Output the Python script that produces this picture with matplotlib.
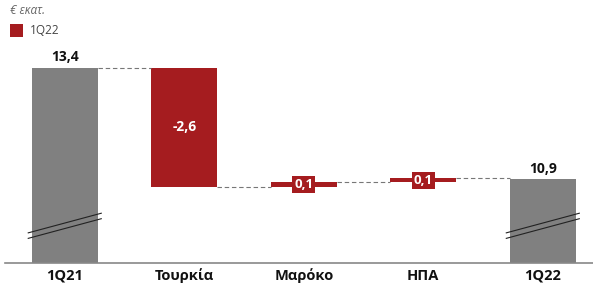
import matplotlib.pyplot as plt
from matplotlib.patches import Rectangle

plt.rcParams['font.family'] = ['Open Sans', 'DejaVu Sans']

categories = ['1Q21', 'Τουρκία', 'Μαρόκο', 'ΗΠΑ', '1Q22']
start_value = 13.4
changes = [-2.6, 0.1, 0.1]
end_value = 10.97
labels = ['13,4', '-2,6', '0,1', '0,1', '10,9']

gray = '#808080'
red = '#A51C1F'
y_floor = 9.14

fig = plt.figure(figsize=(5.93, 2.85), dpi=100)
ax = fig.add_axes([5 / 593, 22 / 285, 588 / 593, 223 / 285])
ax.set_xlim(-0.5, 4.42)
ax.set_ylim(y_floor, y_floor + 223 / 45.8)
w = 0.55

# totals
ax.bar(0, start_value - y_floor, bottom=y_floor, width=w, color=gray)
ax.bar(4, end_value - y_floor, bottom=y_floor, width=w, color=gray)

# changes
level = start_value
levels = [start_value]
for i, c in enumerate(changes, start=1):
    ax.bar(i, abs(c), bottom=min(level, level + c), width=w, color=red)
    level += c
    levels.append(level)

# connectors
for i in range(4):
    ax.plot([i + w / 2, i + 1 - w / 2], [levels[i], levels[i]], color='#777777',
            lw=0.8, ls=(0, (4, 2.5)))

# value labels
ax.text(0, start_value + 0.08, labels[0], ha='center', va='bottom', fontsize=10,
        fontweight='bold', color='#111111')
ax.text(4, end_value + 0.08, labels[4], ha='center', va='bottom', fontsize=10,
        fontweight='bold', color='#111111')
ax.text(1, start_value + changes[0] / 2, labels[1], ha='center', va='center',
        fontsize=10, fontweight='bold', color='white')
for i in (2, 3):
    mid = (levels[i - 1] + levels[i]) / 2
    ax.text(i, mid, labels[i], ha='center', va='center', fontsize=9.5,
            fontweight='bold', color='white',
            bbox=dict(boxstyle='square,pad=0.15', fc=red, ec='none'))

# axis break marks
for x in (0, 4):
    for off in (0, -0.12):
        ax.plot([x - 0.31, x + 0.31], [9.795 + off, 10.23 + off], color='#222222',
                lw=0.8, solid_capstyle='butt')

ax.set_xticks(range(len(categories)))
ax.set_xticklabels(categories, fontsize=10.5, fontweight='bold', color='#111111')
ax.tick_params(axis='x', length=0, pad=4)
ax.set_yticks([])
for s in ('top', 'right', 'left'):
    ax.spines[s].set_visible(False)
ax.spines['bottom'].set_color('#888888')
ax.spines['bottom'].set_linewidth(1.2)

# header texts
fig.text(10 / 593, 1 - 11 / 285, '€ εκατ.', fontsize=8.5, style='italic',
         color='#666666', va='center')
fig.patches.append(Rectangle((10 / 593, 1 - 37 / 285), 13 / 593, 13 / 285,
                             transform=fig.transFigure, fc=red, ec='none'))
fig.text(30 / 593, 1 - 30.5 / 285, '1Q22', fontsize=8.5, color='#444444',
         va='center')

plt.savefig('out.png', dpi=100)
